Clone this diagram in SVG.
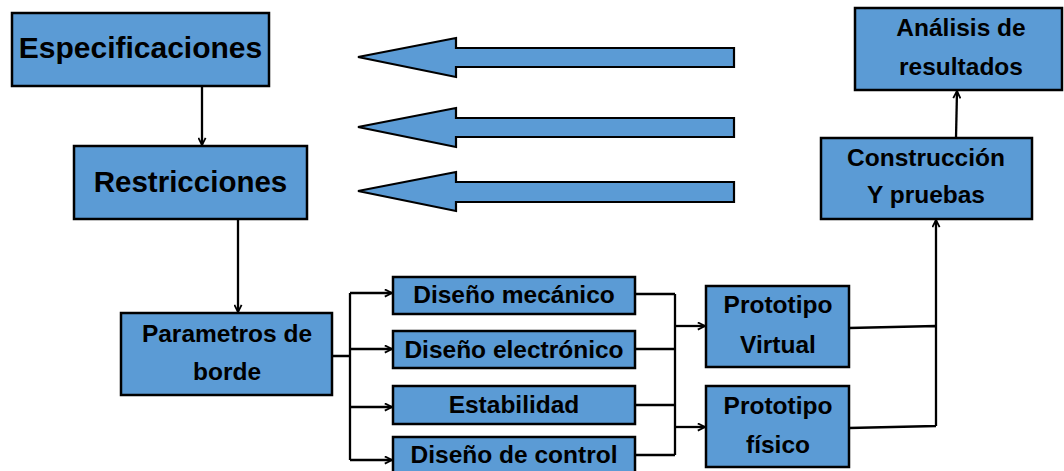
<svg xmlns="http://www.w3.org/2000/svg" width="1064" height="471" viewBox="0 0 1064 471">
  <defs>
    <style>
      .box { fill: #5B9BD5; stroke: #000; stroke-width: 2.5; }
      .big { fill: #5B9BD5; stroke: #000; stroke-width: 2.2; stroke-linejoin: miter; }
      .lbl { font-family: "Liberation Sans", Arial, sans-serif; font-weight: bold; fill: #000; text-anchor: middle; }
      .wire { fill: none; stroke: #000; stroke-width: 2.3; }
      .arr { fill: none; stroke: #000; stroke-width: 2.3; marker-end: url(#tip); }
    </style>
    <marker id="tip" viewBox="0 0 10 10" refX="9" refY="5" markerWidth="9" markerHeight="9" markerUnits="userSpaceOnUse" orient="auto">
      <path d="M1,1 L9,5 L1,9" fill="none" stroke="#000" stroke-width="2"/>
    </marker>
  </defs>
  <rect width="1064" height="471" fill="#fff"/>

  <!-- block arrows pointing left -->
  <g id="block-arrows">
    <polygon class="big" points="358,57 456,38 456,48 734,48 734,67 456,67 456,77"/>
    <polygon class="big" points="358,127 456,108 456,118 734,118 734,137 456,137 456,147"/>
    <polygon class="big" points="358,191 456,172 456,182 734,182 734,202 456,202 456,211"/>
  </g>

  <g id="connectors">
    <path class="arr" d="M202,86 V145"/>
    <path class="arr" d="M238,219 V312"/>
    <path class="wire" d="M332,356 H350 M350,293 V460"/>
    <path class="arr" d="M350,293 H392"/>
    <path class="arr" d="M350,349 H392"/>
    <path class="arr" d="M350,407 H392"/>
    <path class="arr" d="M350,460 H392"/>
    <path class="wire" d="M635,294 H675 M635,349 H675 M635,405 H675 M635,455 H675 M675,294 V455"/>
    <path class="arr" d="M675,326 H705"/>
    <path class="arr" d="M675,427 H705"/>
    <path class="wire" d="M849,328 L936,326 M849,428 L936,426 M936,426 V326"/>
    <path class="arr" d="M936,326 V220"/>
    <path class="arr" d="M956,138 L957,91"/>
  </g>

  <g id="especificaciones">
    <rect class="box" x="12" y="13" width="257" height="73"/>
    <text class="lbl" x="140.5" y="58" font-size="30">Especificaciones</text>
  </g>
  <g id="restricciones">
    <rect class="box" x="74" y="146" width="233" height="73"/>
    <text class="lbl" x="190.5" y="192" font-size="29.5">Restricciones</text>
  </g>
  <g id="parametros">
    <rect class="box" x="121" y="313" width="211" height="82"/>
    <text class="lbl" x="227" y="342" font-size="24.5">Parametros de</text>
    <text class="lbl" x="227" y="380" font-size="24.5">borde</text>
  </g>
  <g id="diseno-mecanico">
    <rect class="box" x="393" y="277" width="242" height="37"/>
    <text class="lbl" x="514" y="303" font-size="24.5">Diseño mecánico</text>
  </g>
  <g id="diseno-electronico">
    <rect class="box" x="393" y="331" width="242" height="37"/>
    <text class="lbl" x="514" y="358" font-size="24.5">Diseño electrónico</text>
  </g>
  <g id="estabilidad">
    <rect class="box" x="393" y="386" width="242" height="38"/>
    <text class="lbl" x="514" y="413" font-size="24.5">Estabilidad</text>
  </g>
  <g id="diseno-control">
    <rect class="box" x="393" y="437" width="242" height="38"/>
    <text class="lbl" x="514" y="463" font-size="24.5">Diseño de control</text>
  </g>
  <g id="prototipo-virtual">
    <rect class="box" x="706" y="286" width="143" height="81"/>
    <text class="lbl" x="778" y="313" font-size="24.5">Prototipo</text>
    <text class="lbl" x="778" y="353" font-size="24.5">Virtual</text>
  </g>
  <g id="prototipo-fisico">
    <rect class="box" x="706" y="386" width="143" height="81"/>
    <text class="lbl" x="778" y="414" font-size="24.5">Prototipo</text>
    <text class="lbl" x="778" y="453" font-size="24.5">físico</text>
  </g>
  <g id="construccion">
    <rect class="box" x="821" y="138" width="211" height="81"/>
    <text class="lbl" x="926" y="166" font-size="24.5">Construcción</text>
    <text class="lbl" x="926" y="203" font-size="24.5">Y pruebas</text>
  </g>
  <g id="analisis">
    <rect class="box" x="855" y="8" width="207" height="82"/>
    <text class="lbl" x="961" y="36" font-size="24.5">Análisis de</text>
    <text class="lbl" x="961" y="75" font-size="24.5">resultados</text>
  </g>
</svg>
